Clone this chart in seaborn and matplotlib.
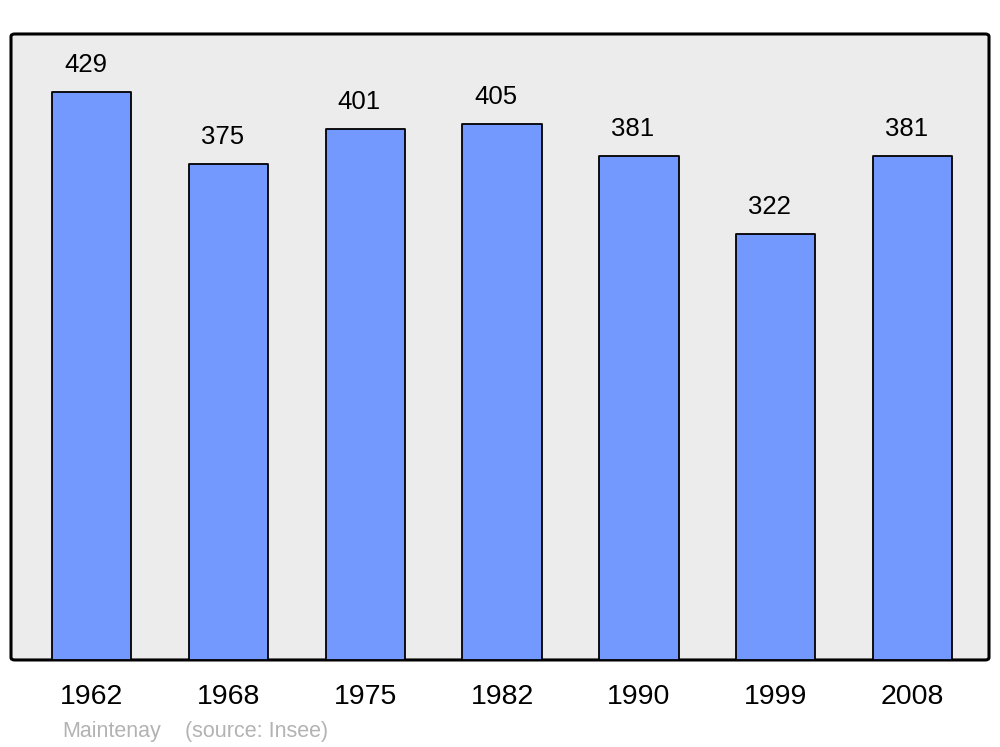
import matplotlib
matplotlib.use("Agg")
import matplotlib.pyplot as plt
from matplotlib.patches import FancyBboxPatch
import seaborn as sns
import pandas as pd

YEARS = ["1962", "1968", "1975", "1982", "1990", "1999", "2008"]
POPULATION = [429, 375, 401, 405, 381, 322, 381]
COMMUNE = "Maintenay"
SOURCE = "(source: Insee)"

sns.set_theme(style="white")
plt.rcParams["font.family"] = ["Liberation Sans", "DejaVu Sans"]

df = pd.DataFrame({"year": YEARS, "pop": POPULATION})

fig = plt.figure(figsize=(10, 7.47), dpi=100)
ax = fig.add_axes([0.011, 0.1165, 0.978, 0.838])
ax.set_facecolor("none")

sns.barplot(data=df, x="year", y="pop", color="#7399ff", saturation=1,
            width=0.58, edgecolor="black", linewidth=1.3, ax=ax, zorder=3)
for p in ax.patches:
    p.set_joinstyle("round")

# rounded grey frame
frame = FancyBboxPatch((0, 0), 1, 1, boxstyle="round,pad=0,rounding_size=0.004",
                       transform=ax.transAxes, facecolor="#ececec",
                       edgecolor="black", linewidth=2.2, zorder=0,
                       clip_on=False)
ax.add_patch(frame)
for s in ax.spines.values():
    s.set_visible(False)

for i, v in enumerate(POPULATION):
    ax.annotate(str(v), (i, v), xytext=(-4.5, 14.5), textcoords="offset points",
                ha="center", va="baseline", fontsize=18.5, color="black")

ax.set_xlim(-0.59, 6.56)
ax.set_ylim(0, 473)
ax.set_yticks([])
ax.set_xlabel("")
ax.set_ylabel("")
ax.tick_params(axis="x", length=0, pad=17, labelsize=20.5, colors="black")

fig.text(0.062, 0.0135, COMMUNE, fontsize=15.5, color="#b3b3b3", ha="left", va="baseline")
fig.text(0.185, 0.0135, SOURCE, fontsize=15.5, color="#b3b3b3", ha="left", va="baseline")

fig.savefig("out.png", dpi=100, facecolor="white")
